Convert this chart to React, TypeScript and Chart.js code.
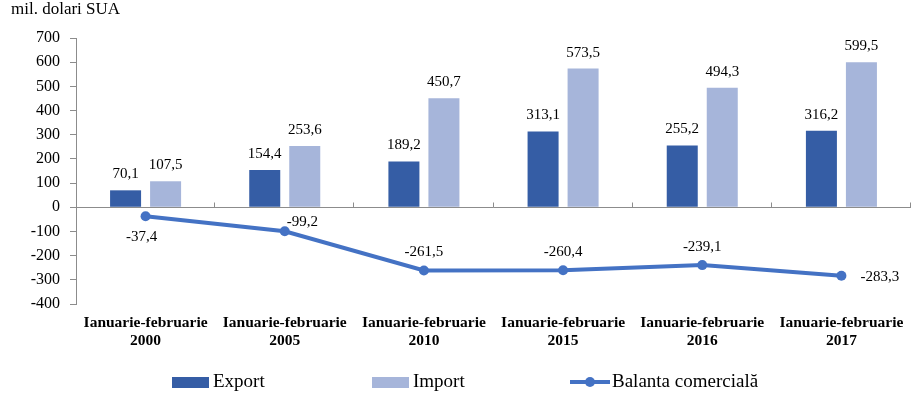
import React, { useEffect, useRef } from 'react';
import { Chart, registerables } from 'chart.js';

Chart.register(...registerables);

// ---- Data ----
const categories: string[][] = [
  ['Ianuarie-februarie', '2000'],
  ['Ianuarie-februarie', '2005'],
  ['Ianuarie-februarie', '2010'],
  ['Ianuarie-februarie', '2015'],
  ['Ianuarie-februarie', '2016'],
  ['Ianuarie-februarie', '2017'],
];
const exportValues = [70.1, 154.4, 189.2, 313.1, 255.2, 316.2];
const importValues = [107.5, 253.6, 450.7, 573.5, 494.3, 599.5];
const balanceValues = [-37.4, -99.2, -261.5, -260.4, -239.1, -283.3];
const yMin = -400;
const yMax = 700;
const yStep = 100;
const unitLabel = 'mil. dolari SUA';
const seriesNames = ['Export', 'Import', 'Balanta comercială'];

// ---- Styles ----
const EXPORT_COLOR = '#355DA5';
const IMPORT_COLOR = '#A6B5DA';
const LINE_COLOR = '#4472C4';
const AXIS_COLOR = '#8C8C8C';
const FONT = '"Liberation Serif", "Times New Roman", serif';
// label placement for the line points (style only)
const lineLabelPlacement = ['below', 'upright', 'above', 'above', 'above', 'right'];

const fmt = (v: number) => v.toFixed(1).replace('.', ',');

const decorPlugin = {
  id: 'decor',
  beforeDatasetsDraw(chart: any) {
    const ctx = chart.ctx;
    const xs = chart.scales.x;
    const ys = chart.scales.y;
    const y0 = Math.round(ys.getPixelForValue(0)) + 0.5;
    ctx.save();
    ctx.strokeStyle = AXIS_COLOR;
    ctx.lineWidth = 1;
    ctx.beginPath();
    ctx.moveTo(xs.left, y0);
    ctx.lineTo(xs.right, y0);
    ctx.stroke();
    const n = categories.length;
    for (let i = 1; i <= n; i++) {
      const px = Math.round(xs.left + ((xs.right - xs.left) * i) / n) - 0.5;
      ctx.beginPath();
      ctx.moveTo(px, y0 - 5);
      ctx.lineTo(px, y0);
      ctx.stroke();
    }
    ctx.restore();
  },
  afterDatasetsDraw(chart: any) {
    const ctx = chart.ctx;
    ctx.save();
    ctx.fillStyle = '#000';
    ctx.font = `15px ${FONT}`;
    ctx.textAlign = 'center';
    ctx.textBaseline = 'middle';
    [0, 1].forEach((di) => {
      const meta = chart.getDatasetMeta(di);
      const vals = di === 0 ? exportValues : importValues;
      meta.data.forEach((el: any, i: number) => {
        ctx.fillText(fmt(vals[i]), el.x, el.y - 16);
      });
    });
    const lm = chart.getDatasetMeta(2);
    lm.data.forEach((el: any, i: number) => {
      const p = lineLabelPlacement[i];
      const t = fmt(balanceValues[i]);
      if (p === 'below') {
        ctx.textAlign = 'center';
        ctx.fillText(t, el.x - 4, el.y + 21);
      } else if (p === 'upright') {
        ctx.textAlign = 'left';
        ctx.fillText(t, el.x + 2, el.y - 9);
      } else if (p === 'above') {
        ctx.textAlign = 'center';
        ctx.fillText(t, el.x, el.y - 18);
      } else {
        ctx.textAlign = 'left';
        ctx.fillText(t, el.x + 19, el.y + 1);
      }
    });

    // unit title
    ctx.textAlign = 'left';
    ctx.textBaseline = 'alphabetic';
    ctx.font = `17px ${FONT}`;
    ctx.fillText(unitLabel, 11, 14);

    // legend
    const ly = 382.5;
    ctx.font = `19px ${FONT}`;
    ctx.textBaseline = 'middle';
    ctx.fillStyle = EXPORT_COLOR;
    ctx.fillRect(172, 377, 37, 11);
    ctx.fillStyle = '#000';
    ctx.fillText(seriesNames[0], 213, ly);
    ctx.fillStyle = IMPORT_COLOR;
    ctx.fillRect(372, 377, 37, 11);
    ctx.fillStyle = '#000';
    ctx.fillText(seriesNames[1], 413, ly);
    ctx.strokeStyle = LINE_COLOR;
    ctx.lineWidth = 4;
    ctx.beginPath();
    ctx.moveTo(570, 382);
    ctx.lineTo(610, 382);
    ctx.stroke();
    ctx.fillStyle = LINE_COLOR;
    ctx.beginPath();
    ctx.arc(590, 382, 5, 0, Math.PI * 2);
    ctx.fill();
    ctx.fillStyle = '#000';
    ctx.fillText(seriesNames[2], 612, ly);
    ctx.restore();
  },
};

export default function App() {
  const ref = useRef<HTMLCanvasElement | null>(null);
  useEffect(() => {
    document.body.style.margin = '0';
    const canvas = ref.current;
    if (!canvas) return;
    const chart = new Chart(canvas, {
      type: 'bar',
      data: {
        labels: categories,
        datasets: [
          {
            type: 'bar',
            label: seriesNames[0],
            data: exportValues,
            backgroundColor: EXPORT_COLOR,
            categoryPercentage: 0.575,
            barPercentage: 0.775,
            order: 2,
          },
          {
            type: 'bar',
            label: seriesNames[1],
            data: importValues,
            backgroundColor: IMPORT_COLOR,
            categoryPercentage: 0.575,
            barPercentage: 0.775,
            order: 2,
          },
          {
            type: 'line',
            label: seriesNames[2],
            data: balanceValues,
            borderColor: LINE_COLOR,
            backgroundColor: LINE_COLOR,
            borderWidth: 4,
            pointRadius: 5,
            pointBackgroundColor: LINE_COLOR,
            pointBorderWidth: 0,
            tension: 0,
            order: 0,
          } as any,
        ],
      },
      options: {
        responsive: false,
        animation: false,
        devicePixelRatio: 1,
        layout: { padding: { top: 38, right: 9, left: 0, bottom: 0 } },
        plugins: {
          legend: { display: false },
          tooltip: { enabled: false },
        },
        scales: {
          x: {
            grid: { display: false },
            border: { display: false },
            ticks: {
              color: '#000',
              font: { family: FONT, size: 15.5, weight: 'bold', lineHeight: '18px' },
              padding: 2,
              maxRotation: 0,
              autoSkip: false,
            },
            afterFit: (s: any) => {
              s.height = 95;
            },
          },
          y: {
            min: yMin,
            max: yMax,
            grid: {
              drawOnChartArea: false,
              drawTicks: true,
              tickLength: 6,
              color: AXIS_COLOR,
            },
            border: { display: true, color: AXIS_COLOR },
            ticks: {
              stepSize: yStep,
              color: '#000',
              font: { family: FONT, size: 16 },
              padding: 10,
              callback: (v: any) => String(v),
            },
            afterFit: (s: any) => {
              s.width = 76;
            },
          },
        },
      },
      plugins: [decorPlugin],
    });
    return () => chart.destroy();
  }, []);
  return (
    <div style={{ width: 920, height: 399 }}>
      <canvas ref={ref} width={920} height={399} style={{ display: 'block' }} />
    </div>
  );
}
